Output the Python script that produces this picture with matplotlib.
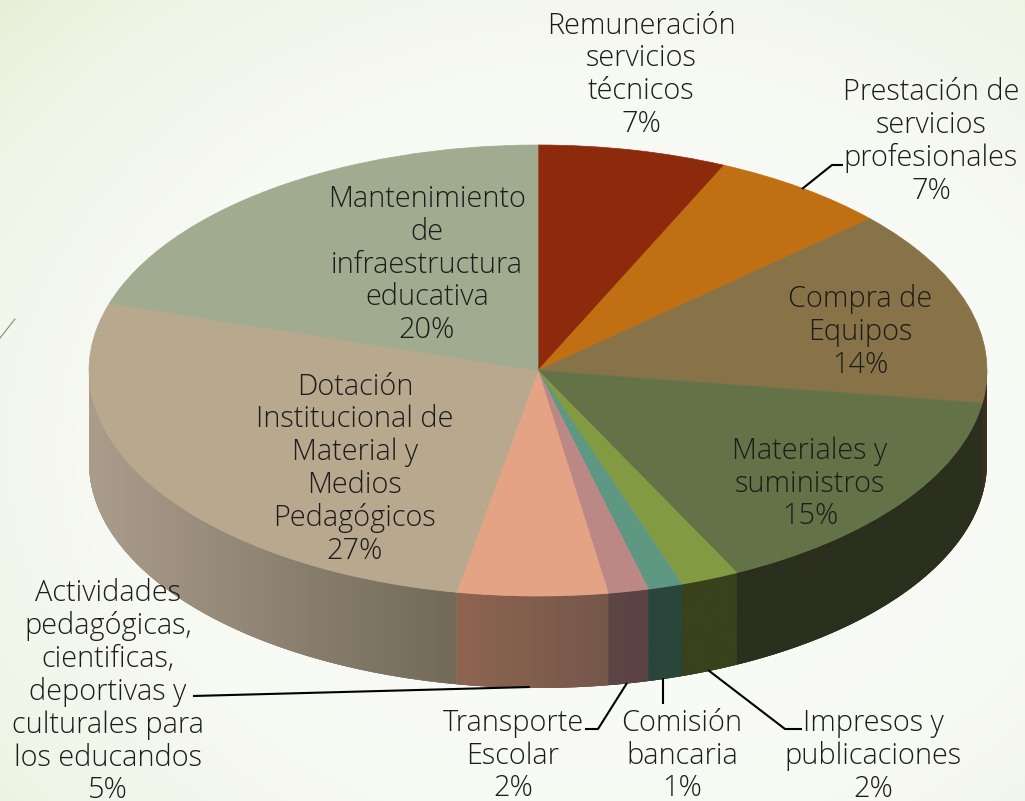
import numpy as np
import matplotlib
matplotlib.use("Agg")
import matplotlib.pyplot as plt
from matplotlib.colors import LinearSegmentedColormap
from matplotlib.patches import Polygon

# slices clockwise from the top
names = ["Remuneración\nservicios\ntécnicos", "Prestación de\nservicios\nprofesionales",
         "Compra de\nEquipos", "Materiales y\nsuministros", "Impresos y\npublicaciones",
         "Comisión\nbancaria", "Transporte\nEscolar",
         "Actividades\npedagógicas,\ncientificas,\ndeportivas y\nculturales para\nlos educandos",
         "Dotación\nInstitucional de\nMaterial y\nMedios\nPedagógicos",
         "Mantenimiento\nde\ninfraestructura\neducativa"]
shown_pct = [7, 7, 14, 15, 2, 1, 2, 5, 27, 20]
values = [6.8, 6.45, 14.05, 15.4, 2.1, 1.25, 1.45, 5.4, 26.9, 20.2]

top_colors = ["#8e2a0c", "#c06f12", "#887247", "#637247", "#829a42",
              "#5e9782", "#bb8886", "#e4a384", "#b8a88e", "#a0ab90"]
# side wall colours, left end and right end of each slice
wall_left = ["#000000", "#000000", "#3d2f1e", "#2b2f1d", "#3a411d",
             "#2a463c", "#5e4546", "#8f6551", "#ab9d8c", "#000000"]
wall_right = ["#000000", "#000000", "#3d2f1e", "#2b2f1d", "#3a411d",
              "#2a463c", "#5a4343", "#74574a", "#726959", "#000000"]

# centre of each label block in picture pixels
label_pos = [(641, 75), (931, 142), (860, 332), (810, 484), (873, 756),
             (682, 756), (513, 756), (108, 692), (355, 469), (427, 265)]

W, H = 1025, 801
cx, cy, rx, ry, depth = 538, 370.5, 449, 225.5, 92

fig = plt.figure(figsize=(W / 100, H / 100), dpi=100)

# background
bg = fig.add_axes([0, 0, 1, 1], zorder=0)
yy, xx = np.mgrid[0:H, 0:W]
dist = np.sqrt(((xx - 600) / 760) ** 2 + ((yy - 450) / 600) ** 2)
bg_cmap = LinearSegmentedColormap.from_list(
    "bg", [(0, "#fbfcf9"), (0.55, "#f7f9f3"), (0.8, "#f1f5e8"), (1, "#e7efd7")])
bg.imshow(dist, cmap=bg_cmap, vmin=0.1, vmax=1.1, extent=(0, W, H, 0), aspect="auto")
bg.axis("off")

# pie, stretched into an ellipse
ax = fig.add_axes([0, 0, 1, 1], zorder=1)
ax.patch.set_alpha(0)
wedges, _ = ax.pie(values, colors=top_colors, startangle=90, counterclock=False,
                   radius=1, center=(0, 0),
                   wedgeprops=dict(linewidth=0.5, zorder=5))
for w, c in zip(wedges, top_colors):
    w.set_edgecolor(c)

xlim = (-cx / rx, (W - cx) / rx)
ylim = ((cy - H) / ry, cy / ry)
d = depth / ry


def wall_outline(t0, t1):
    t = np.linspace(t0, t1, 80)
    x, y = np.sin(t), np.cos(t)
    return x, y, np.column_stack([np.r_[x, x[::-1]], np.r_[y, y[::-1] - d]])


# dark layer under the wall so the slice joins show no seam
_, _, under = wall_outline(np.pi / 2 + 0.01, 3 * np.pi / 2 - 0.01)
ax.add_patch(Polygon(under, closed=True, facecolor="#3d3a2c", edgecolor="none", zorder=0.5))

edges = np.cumsum([0] + values) / sum(values) * 2 * np.pi
for i in range(len(values)):
    t0 = max(edges[i], np.pi / 2)
    t1 = min(edges[i + 1], 3 * np.pi / 2)
    if t1 <= t0:
        continue
    x, y, pts = wall_outline(t0, t1)
    cmap = LinearSegmentedColormap.from_list("w", [wall_left[i], wall_right[i]])
    poly = Polygon(pts, closed=True, transform=ax.transData, facecolor=wall_left[i],
                   edgecolor="none", zorder=1)
    ax.add_patch(poly)
    im = ax.imshow(np.linspace(0, 1, 256)[None, :], cmap=cmap, aspect="auto", zorder=2,
                   extent=(x.min(), x.max(), y.min() - d, y.max()))
    im.set_clip_path(poly)

ax.set_aspect("auto")
ax.set_xlim(xlim)
ax.set_ylim(ylim)
ax.axis("off")

# labels and leader lines, in picture pixels
top = fig.add_axes([0, 0, 1, 1], zorder=2)
top.set_xlim(0, W)
top.set_ylim(H, 0)
top.axis("off")

for name, pct, (lx, ly) in zip(names, shown_pct, label_pos):
    top.text(lx, ly, f"{name}\n{pct}%", ha="center", va="center", multialignment="center",
             family="Open Sans", weight="light", fontsize=20.8, color="#1c1c1c", linespacing=1.14)

leaders = [([802, 832, 843], [189, 165, 165]),
           ([193, 530], [696, 687]),
           ([585, 598, 627], [729, 729, 683]),
           ([663, 663], [678, 704]),
           ([708, 785, 802], [670, 729, 729])]
for lxs, lys in leaders:
    top.plot(lxs, lys, color="black", lw=1.5, solid_capstyle="butt")

top.plot([0, 15], [338, 319], color="#8a8a78", lw=0.8)

fig.savefig("out.png", dpi=100)
